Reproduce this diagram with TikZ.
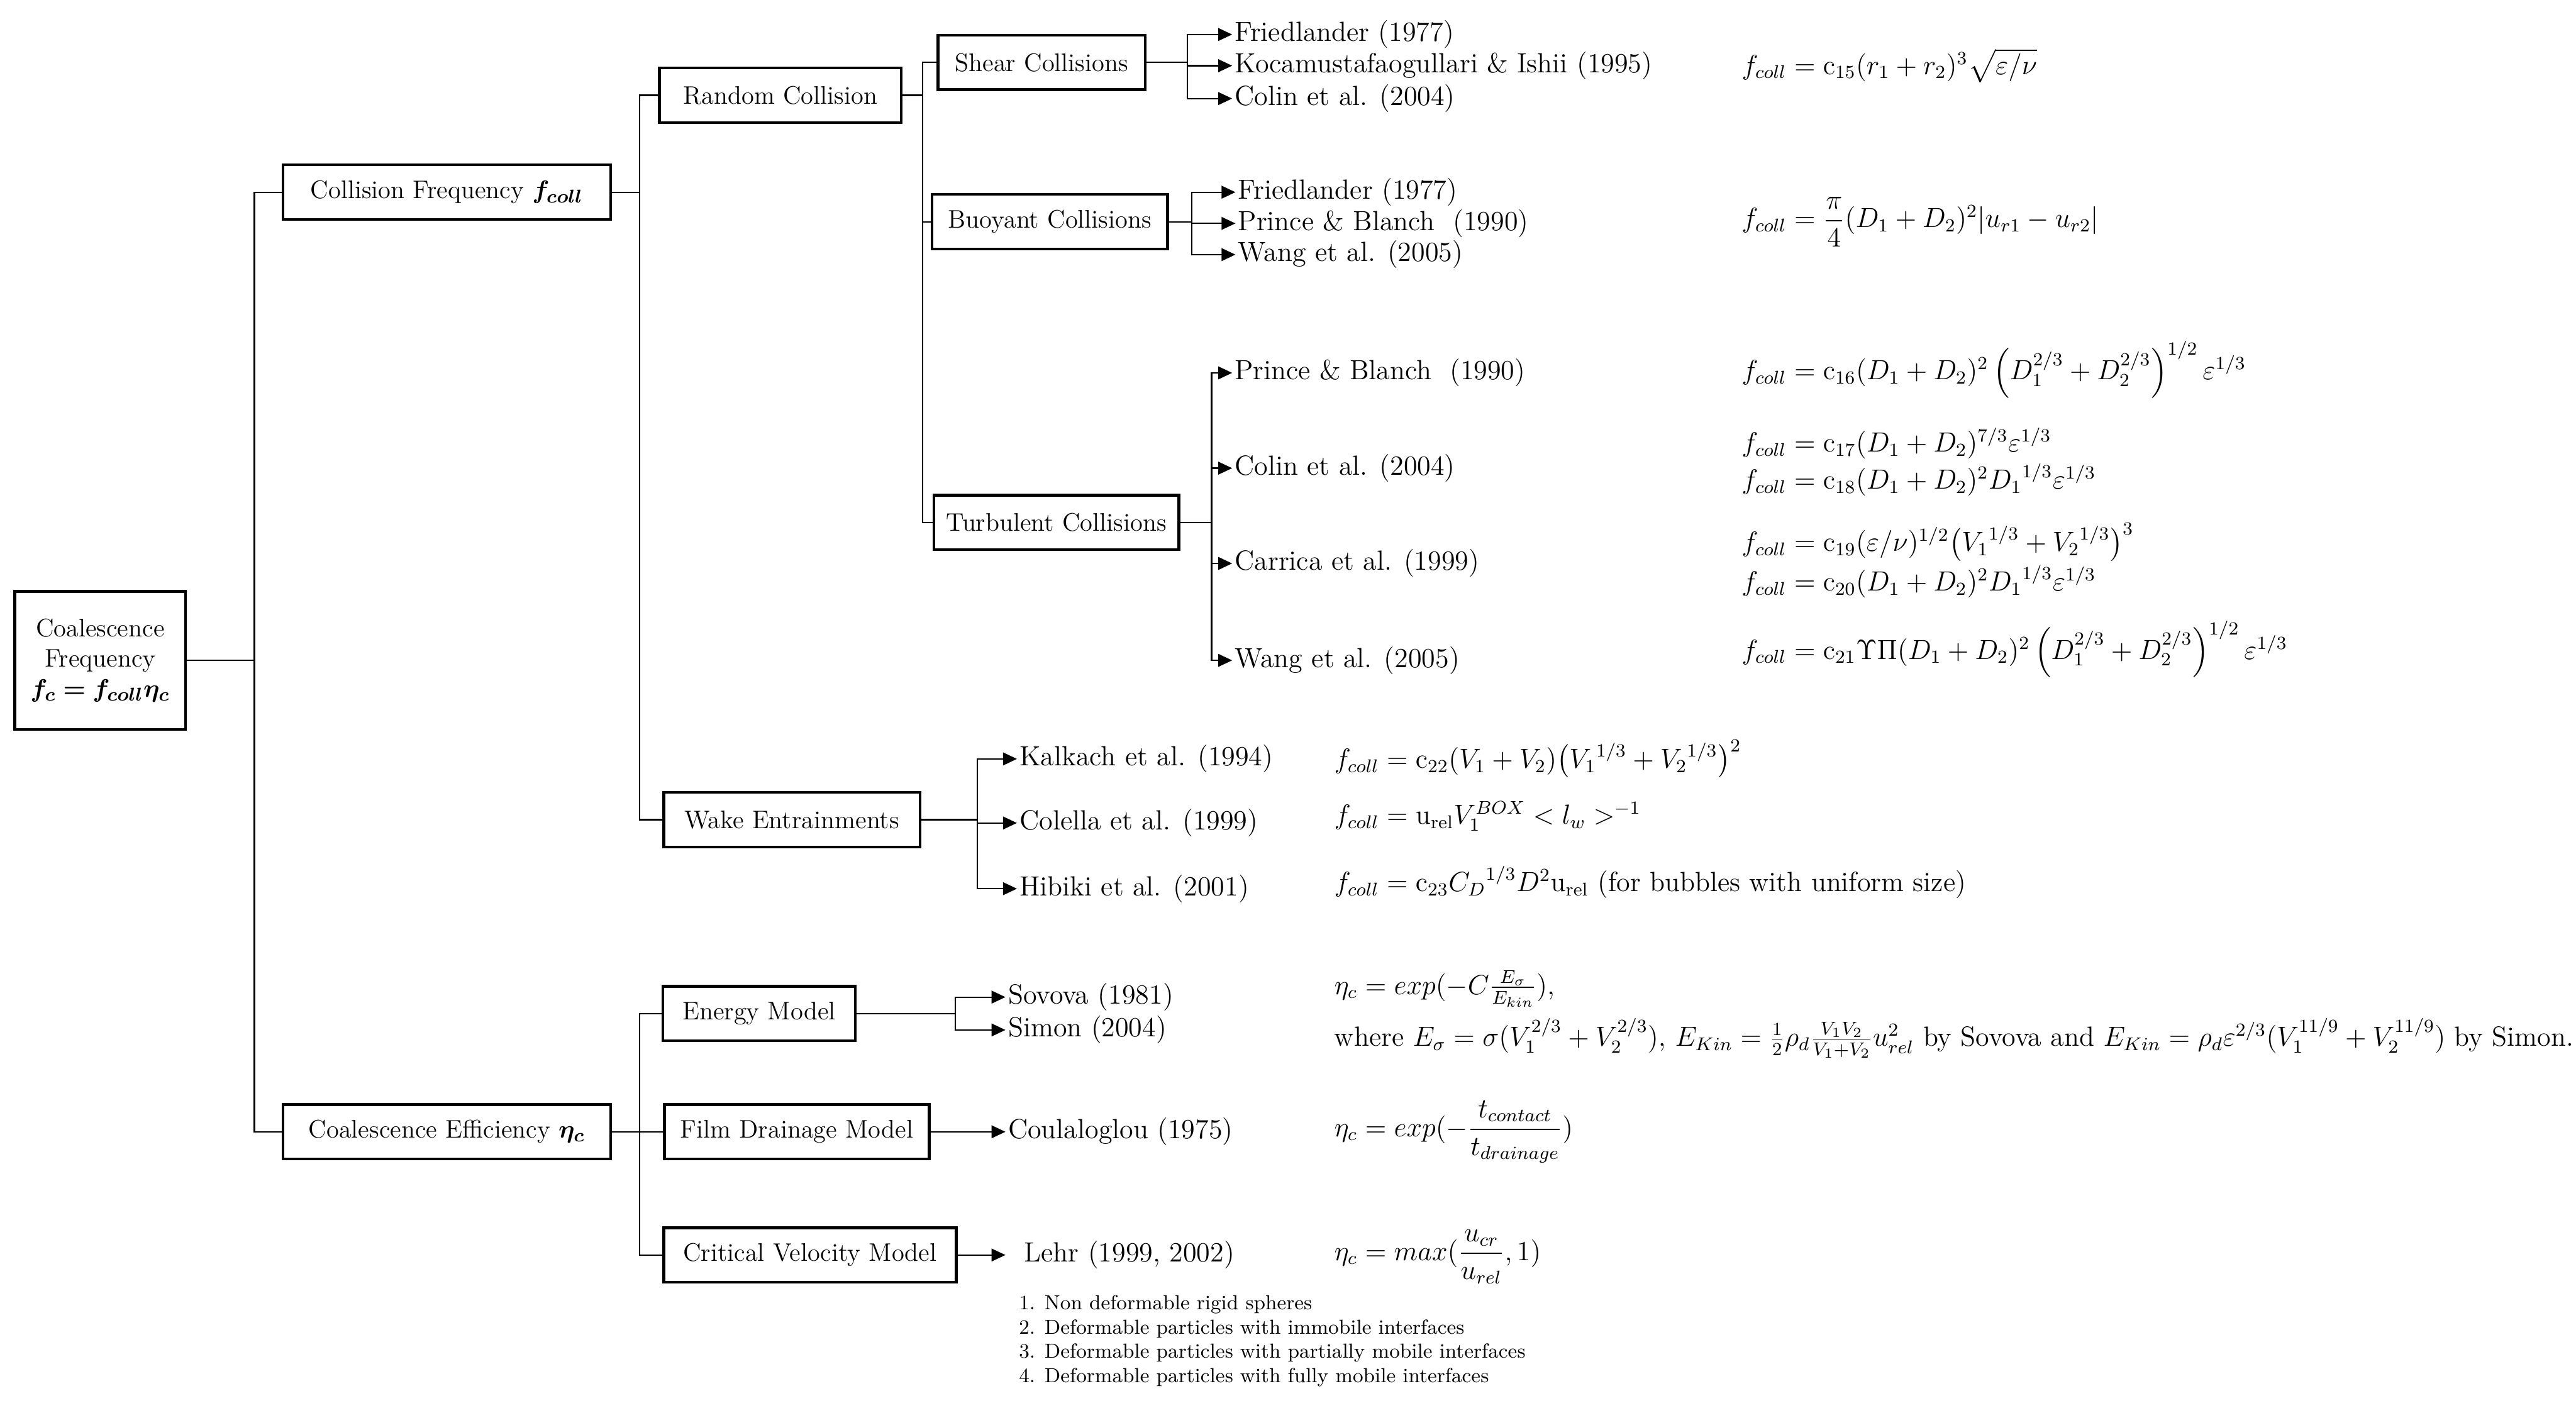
\documentclass[tikz,border=0pt]{standalone}
\usepackage{amsmath,amssymb}
\usepackage{bm}
\usepackage{tikz}
\usetikzlibrary{positioning,arrows.meta}

\begin{document}
\begin{tikzpicture}[x=0.025cm, y=-0.025cm,
    font=\fontsize{11}{13}\selectfont,
    box/.style={rectangle, draw, line width=1.2pt, minimum height=0.83cm, inner sep=2pt, text centered},
    ref/.style={anchor=west, inner sep=1pt, font=\fontsize{12}{14}\selectfont},
    eq/.style={anchor=west, inner sep=0pt, font=\fontsize{12}{14}\selectfont},
    note/.style={anchor=west, inner sep=0pt, font=\fontsize{8.8}{10.5}\selectfont},
    link/.style={line width=0.6pt},
    arrow/.style={line width=0.6pt, ->, >={Triangle[length=6pt, width=5.5pt]}}]

    \useasboundingbox (0,0) rectangle (1568,860);

    % boxes
    \node (root) [box, minimum width=2.6cm, minimum height=2.1cm, align=center] at (61,402) {Coalescence\\Frequency\\$\bm{f_c = f_{coll}\eta_c}$};
    \node (freq) [box, minimum width=4.98cm] at (272,117) {Collision Frequency $\bm{f_{coll}}$};
    \node (eff) [box, minimum width=4.98cm] at (272,689) {Coalescence Efficiency $\bm{\eta_c}$};

    \node (random) [box, minimum width=3.68cm] at (475,58) {Random Collision};
    \node (wake) [box, minimum width=3.9cm] at (482,499) {Wake Entrainments};
    \node (shear) [box, minimum width=3.15cm] at (634,38) {Shear Collisions};
    \node (buoyant) [box, minimum width=3.58cm] at (639,135) {Buoyant Collisions};
    \node (turbulent) [box, minimum width=3.73cm] at (643,318) {Turbulent Collisions};

    \node (energy) [box, minimum width=2.93cm] at (462,617) {Energy Model};
    \node (film) [box, minimum width=4.03cm] at (485,689) {Film Drainage Model};
    \node (critical) [box, minimum width=4.45cm] at (493,764) {Critical Velocity Model};

    % references
    \node (fried1) [ref] at (750,21) {Friedlander (1977)};
    \node (koca) [ref] at (750,40) {Kocamustafaogullari \& Ishii (1995)};
    \node (colin1) [ref] at (750,60) {Colin et al. (2004)};

    \node (fried2) [ref] at (752,117) {Friedlander (1977)};
    \node (prince1) [ref] at (752,136) {Prince \& Blanch\ \ (1990)};
    \node (wang1) [ref] at (752,155) {Wang et al. (2005)};

    \node (prince2) [ref] at (750,227) {Prince \& Blanch\ \ (1990)};
    \node (colin2) [ref] at (750,285) {Colin et al. (2004)};
    \node (carrica) [ref] at (750,343) {Carrica et al. (1999)};
    \node (wang2) [ref] at (750,402) {Wang et al. (2005)};

    \node (kalkach) [ref] at (619,462) {Kalkach et al. (1994)};
    \node (colella) [ref] at (619,501) {Colella et al. (1999)};
    \node (hibiki) [ref] at (619,541) {Hibiki et al. (2001)};

    \node (sovova) [ref] at (612,607) {Sovova (1981)};
    \node (simon) [ref] at (612,627) {Simon (2004)};
    \node (coul) [ref] at (612,689) {Coulaloglou (1975)};
    \node (lehr) [ref, inner xsep=8pt] at (612,764) {Lehr (1999, 2002)};

    % formulas
    \node (eq15) [eq] at (1060,40) {$f_{coll}=\mathrm{c}_{15}(r_1+r_2)^3\sqrt{\varepsilon/\nu}$};
    \node (eqpi) [eq] at (1060,135) {$f_{coll}=\dfrac{\pi}{4}(D_1+D_2)^2|u_{r1}-u_{r2}|$};
    \node (eq16) [eq] at (1060,225) {$f_{coll}=\mathrm{c}_{16}(D_1+D_2)^2\left(D_1^{2/3}+D_2^{2/3}\right)^{1/2}\varepsilon^{1/3}$};
    \node (eq17) [eq] at (1060,270) {$f_{coll}=\mathrm{c}_{17}(D_1+D_2)^{7/3}\varepsilon^{1/3}$};
    \node (eq18) [eq] at (1060,292) {$f_{coll}=\mathrm{c}_{18}(D_1+D_2)^2{D_1}^{1/3}\varepsilon^{1/3}$};
    \node (eq19) [eq] at (1060,330) {$f_{coll}=\mathrm{c}_{19}(\varepsilon/\nu)^{1/2}\bigl({V_1}^{1/3}+{V_2}^{1/3}\bigr)^3$};
    \node (eq20) [eq] at (1060,354) {$f_{coll}=\mathrm{c}_{20}(D_1+D_2)^2{D_1}^{1/3}\varepsilon^{1/3}$};
    \node (eq21) [eq] at (1060,395) {$f_{coll}=\mathrm{c}_{21}\Upsilon\Pi(D_1+D_2)^2\left(D_1^{2/3}+D_2^{2/3}\right)^{1/2}\varepsilon^{1/3}$};

    \node (eq22) [eq] at (812,462) {$f_{coll}=\mathrm{c}_{22}(V_1+V_2)\bigl({V_1}^{1/3}+{V_2}^{1/3}\bigr)^2$};
    \node (eqbox) [eq] at (812,497) {$f_{coll}=\mathrm{u}_{\mathrm{rel}}V_1^{BOX}<l_w>^{-1}$};
    \node (eq23) [eq] at (812,537) {$f_{coll}=\mathrm{c}_{23}{C_D}^{1/3}D^2\mathrm{u}_{\mathrm{rel}}$ (for bubbles with uniform size)};

    \node (eqen) [eq] at (812,602) {$\eta_c=exp(-C\frac{E_\sigma}{E_{kin}}),$};
    \node (eqwhere) [eq] at (812,632) {where $E_\sigma=\sigma(V_1^{2/3}+V_2^{2/3}),\,E_{Kin}=\frac{1}{2}\rho_d\frac{V_1V_2}{V_1+V_2}u_{rel}^2$ by Sovova and $E_{Kin}=\rho_d\varepsilon^{2/3}(V_1^{11/9}+V_2^{11/9})$ by Simon.};
    \node (eqfilm) [eq] at (812,689) {$\eta_c=exp(-\dfrac{t_{contact}}{t_{drainage}})$};
    \node (eqcrit) [eq] at (812,765) {$\eta_c=max(\dfrac{u_{cr}}{u_{rel}},1)$};

    % notes
    \node (note1) [note] at (620,794) {1. Non deformable rigid spheres};
    \node (note2) [note, below=2.2pt of note1.south west, anchor=north west] {2. Deformable particles with immobile interfaces};
    \node (note3) [note, below=2.2pt of note2.south west, anchor=north west] {3. Deformable particles with partially mobile interfaces};
    \node (note4) [note, below=2.2pt of note3.south west, anchor=north west] {4. Deformable particles with fully mobile interfaces};

    % tree lines
    \draw [link] (root.east) -- ++(41,0) |- (freq.west);
    \draw [link] (root.east) -- ++(41,0) |- (eff.west);

    \draw [link] (freq.east) -- ++(17,0) |- (random.west);
    \draw [link] (freq.east) -- ++(17,0) |- (wake.west);

    \draw [link] (random.east) -- ++(12,0) |- (shear.west);
    \draw [link] (random.east) -- ++(12,0) |- (buoyant.west);
    \draw [link] (random.east) -- ++(12,0) |- (turbulent.west);

    \draw [link] (eff.east) -- ++(17,0) |- (energy.west);
    \draw [link] (eff.east) -- ++(17,0) |- (film.west);
    \draw [link] (eff.east) -- ++(17,0) |- (critical.west);

    % arrows to references
    \foreach \n in {fried1,koca,colin1}
        \draw [arrow] (shear.east) -- ++(25,0) |- (\n.west);
    \foreach \n in {fried2,prince1,wang1}
        \draw [arrow] (buoyant.east) -- ++(14,0) |- (\n.west);
    \foreach \n in {prince2,colin2,carrica,wang2}
        \draw [arrow] (turbulent.east) -- ++(19,0) |- (\n.west);
    \foreach \n in {kalkach,colella,hibiki}
        \draw [arrow] (wake.east) -- ++(34,0) |- (\n.west);
    \foreach \n in {sovova,simon}
        \draw [arrow] (energy.east) -- ++(60,0) |- (\n.west);
    \draw [arrow] (film) -- (coul);
    \draw [arrow] (critical) -- (lehr);
\end{tikzpicture}
\end{document}
